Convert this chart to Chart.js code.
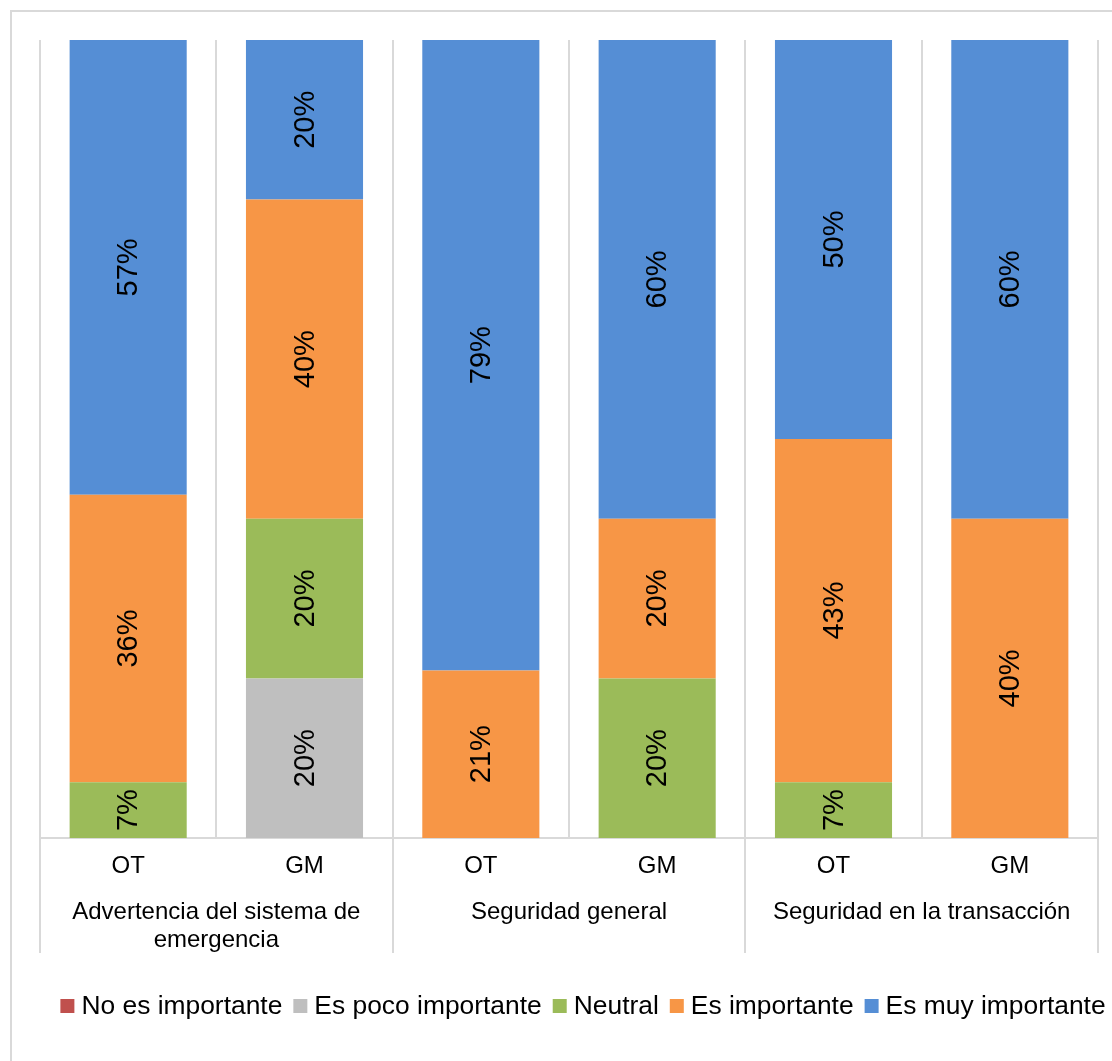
<!DOCTYPE html>
<html lang="es">
<head>
<meta charset="utf-8">
<title>Importancia por atributo</title>
<script src="https://cdn.jsdelivr.net/npm/chart.js@4/dist/chart.umd.min.js"></script>
<style>
  html, body { margin: 0; background: #fff; }
  canvas { display: block; }
</style>
</head>
<body>
<canvas id="chart" width="1112" height="1061"></canvas>
<script>
/* global Chart */

// bars (inner axis level) and the attribute groups under them
const bars = ["OT", "GM", "OT", "GM", "OT", "GM"];
const groups = [
  ["Advertencia del sistema de", "emergencia"],
  ["Seguridad general"],
  ["Seguridad en la transacción"],
];

// share of answers per bar, in %
const noImportante = [0, 0, 0, 0, 0, 0];
const pocoImportante = [0, 20, 0, 0, 0, 0];
const neutral = [7, 20, 0, 20, 7, 0];
const importante = [36, 40, 21, 20, 43, 40];
const muyImportante = [57, 20, 79, 60, 50, 60];

const seriesNames = ["No es importante", "Es poco importante", "Neutral", "Es importante", "Es muy importante"];
const seriesData = [noImportante, pocoImportante, neutral, importante, muyImportante];
const seriesColors = ["#C0504D", "#BFBFBF", "#9BBB59", "#F79646", "#558ED5"];

const FONT = '"Liberation Sans", Arial, sans-serif';
const LINE = "#d9d9d9";

const frame = {
  id: "frame",
  beforeDraw(chart) {
    const { ctx } = chart;
    ctx.save();
    ctx.fillStyle = "#fff";
    ctx.fillRect(0, 0, chart.width, chart.height);
    ctx.strokeStyle = LINE;
    ctx.lineWidth = 2;
    ctx.strokeRect(11, 11, chart.width, chart.height);
    ctx.restore();
  },
};

// rotated percentage inside every non-empty segment
const pctLabels = {
  id: "pctLabels",
  afterDatasetsDraw(chart) {
    const { ctx } = chart;
    ctx.save();
    ctx.font = `29px ${FONT}`;
    ctx.fillStyle = "#000";
    ctx.textAlign = "center";
    ctx.textBaseline = "middle";
    chart.data.datasets.forEach((ds, i) => {
      const meta = chart.getDatasetMeta(i);
      meta.data.forEach((bar, j) => {
        const v = ds.data[j];
        if (!v) return;
        ctx.save();
        ctx.translate(bar.x, (bar.y + bar.base) / 2);
        ctx.rotate(-Math.PI / 2);
        ctx.fillText(`${v}%`, 0, 1);
        ctx.restore();
      });
    });
    ctx.restore();
  },
};

// second axis level: group separators and group names
const groupAxis = {
  id: "groupAxis",
  afterDraw(chart) {
    const { ctx, chartArea } = chart;
    const x = chart.scales.x;
    const step = x.width / bars.length;
    const per = bars.length / groups.length;
    ctx.save();
    ctx.strokeStyle = LINE;
    ctx.lineWidth = 2;
    for (let g = 0; g <= groups.length; g++) {
      const px = Math.round(x.getPixelForValue(g * per) - step / 2);
      ctx.beginPath();
      ctx.moveTo(px, chartArea.bottom);
      ctx.lineTo(px, x.bottom);
      ctx.stroke();
    }
    ctx.font = `24px ${FONT}`;
    ctx.fillStyle = "#000";
    ctx.textAlign = "center";
    ctx.textBaseline = "middle";
    groups.forEach((lines, g) => {
      const cx = (x.getPixelForValue(g * per) + x.getPixelForValue(g * per + per - 1)) / 2;
      lines.forEach((t, k) => ctx.fillText(t, cx, chartArea.bottom + 74 + k * 28));
    });
    ctx.restore();
  },
};

// single-row legend under the axis
const rowLegend = {
  id: "rowLegend",
  afterDraw(chart) {
    const { ctx } = chart;
    const box = 14, gapText = 7, gapItem = 11;
    const y = chart.height - 55;
    ctx.save();
    ctx.font = `26.4px ${FONT}`;
    ctx.textBaseline = "middle";
    ctx.textAlign = "left";
    const items = chart.data.datasets.map((ds) => ({
      text: ds.label,
      color: ds.backgroundColor,
      w: ctx.measureText(ds.label).width,
    }));
    const total = items.reduce((s, it) => s + box + gapText + it.w, 0) + gapItem * (items.length - 1);
    let cx = 583 - total / 2;
    for (const it of items) {
      ctx.fillStyle = it.color;
      ctx.fillRect(cx, y - box / 2, box, box);
      ctx.fillStyle = "#000";
      ctx.fillText(it.text, cx + box + gapText, y + 1);
      cx += box + gapText + it.w + gapItem;
    }
    ctx.restore();
  },
};

new Chart(document.getElementById("chart"), {
  type: "bar",
  data: {
    labels: bars,
    datasets: seriesNames.map((name, i) => ({
      label: name,
      data: seriesData[i],
      backgroundColor: seriesColors[i],
      borderWidth: 0,
      categoryPercentage: 0.664,
      barPercentage: 1,
    })),
  },
  options: {
    responsive: false,
    animation: false,
    layout: { padding: { top: 40, left: 40, right: 14, bottom: 108 } },
    scales: {
      x: {
        stacked: true,
        grid: { offset: true, color: LINE, lineWidth: 2, drawTicks: false },
        border: { display: true, color: LINE, width: 2 },
        ticks: { color: "#000", font: { family: FONT, size: 24 }, padding: 14 },
        afterFit(scale) { scale.height = 115; },
      },
      y: { stacked: true, min: 0, max: 100, display: false },
    },
    plugins: {
      legend: { display: false },
      tooltip: { enabled: false },
    },
  },
  plugins: [frame, pctLabels, groupAxis, rowLegend],
});
</script>
</body>
</html>
